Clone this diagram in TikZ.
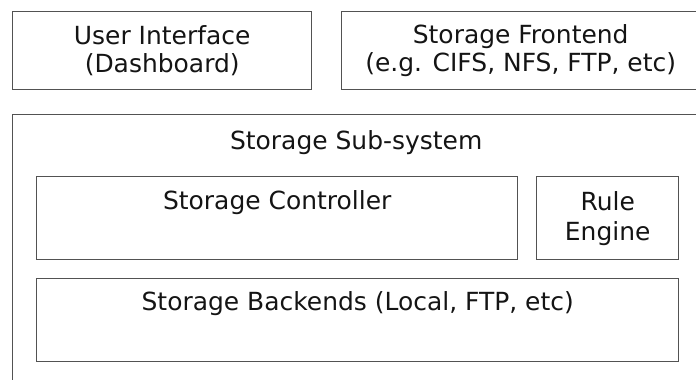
\documentclass[tikz,border=0pt]{standalone}
\usepackage{fontspec}
\setmainfont{DejaVu Sans}
\begin{document}
\begin{tikzpicture}[
  caja/.style={draw=black!68, line width=0.8pt, rectangle, anchor=north west,
    inner sep=0pt, align=center, text=black!92,
    font=\fontsize{14.2pt}{15.6pt}\selectfont},
  titulo/.style={anchor=north, inner sep=0pt, text=black!92,
    font=\fontsize{14.2pt}{15.6pt}\selectfont}
]
% Marco de la figura
\useasboundingbox (0,0) rectangle (13.92,7.58);
\clip (0,0) rectangle (13.92,7.58);

% Capa superior
\node[caja, minimum width=5.98cm, minimum height=1.56cm] (ui) at (0.24,7.36)
  {User Interface\\(Dashboard)};
\node[caja, minimum width=7.16cm, minimum height=1.56cm] (frontend) at (6.82,7.36)
  {Storage Frontend\\(e.g. CIFS, NFS, FTP, etc)};

% Subsistema de almacenamiento
\node[caja, minimum width=13.74cm, minimum height=6cm,
  label={[titulo, yshift=-0.32cm]north:Storage Sub-system}] (sub) at (0.24,5.30) {};
\node[caja, minimum width=9.62cm, minimum height=1.66cm,
  label={[titulo, yshift=-0.28cm]north:Storage Controller}] (controller) at (0.72,4.06) {};
\node[caja, minimum width=2.84cm, minimum height=1.66cm,
  font=\fontsize{14.2pt}{17pt}\selectfont] (rules) at (10.72,4.06) {Rule\\Engine};
\node[caja, minimum width=12.84cm, minimum height=1.66cm,
  label={[titulo, yshift=-0.27cm]north:Storage Backends (Local, FTP, etc)}] (backends) at (0.72,2.02) {};
\end{tikzpicture}
\end{document}
